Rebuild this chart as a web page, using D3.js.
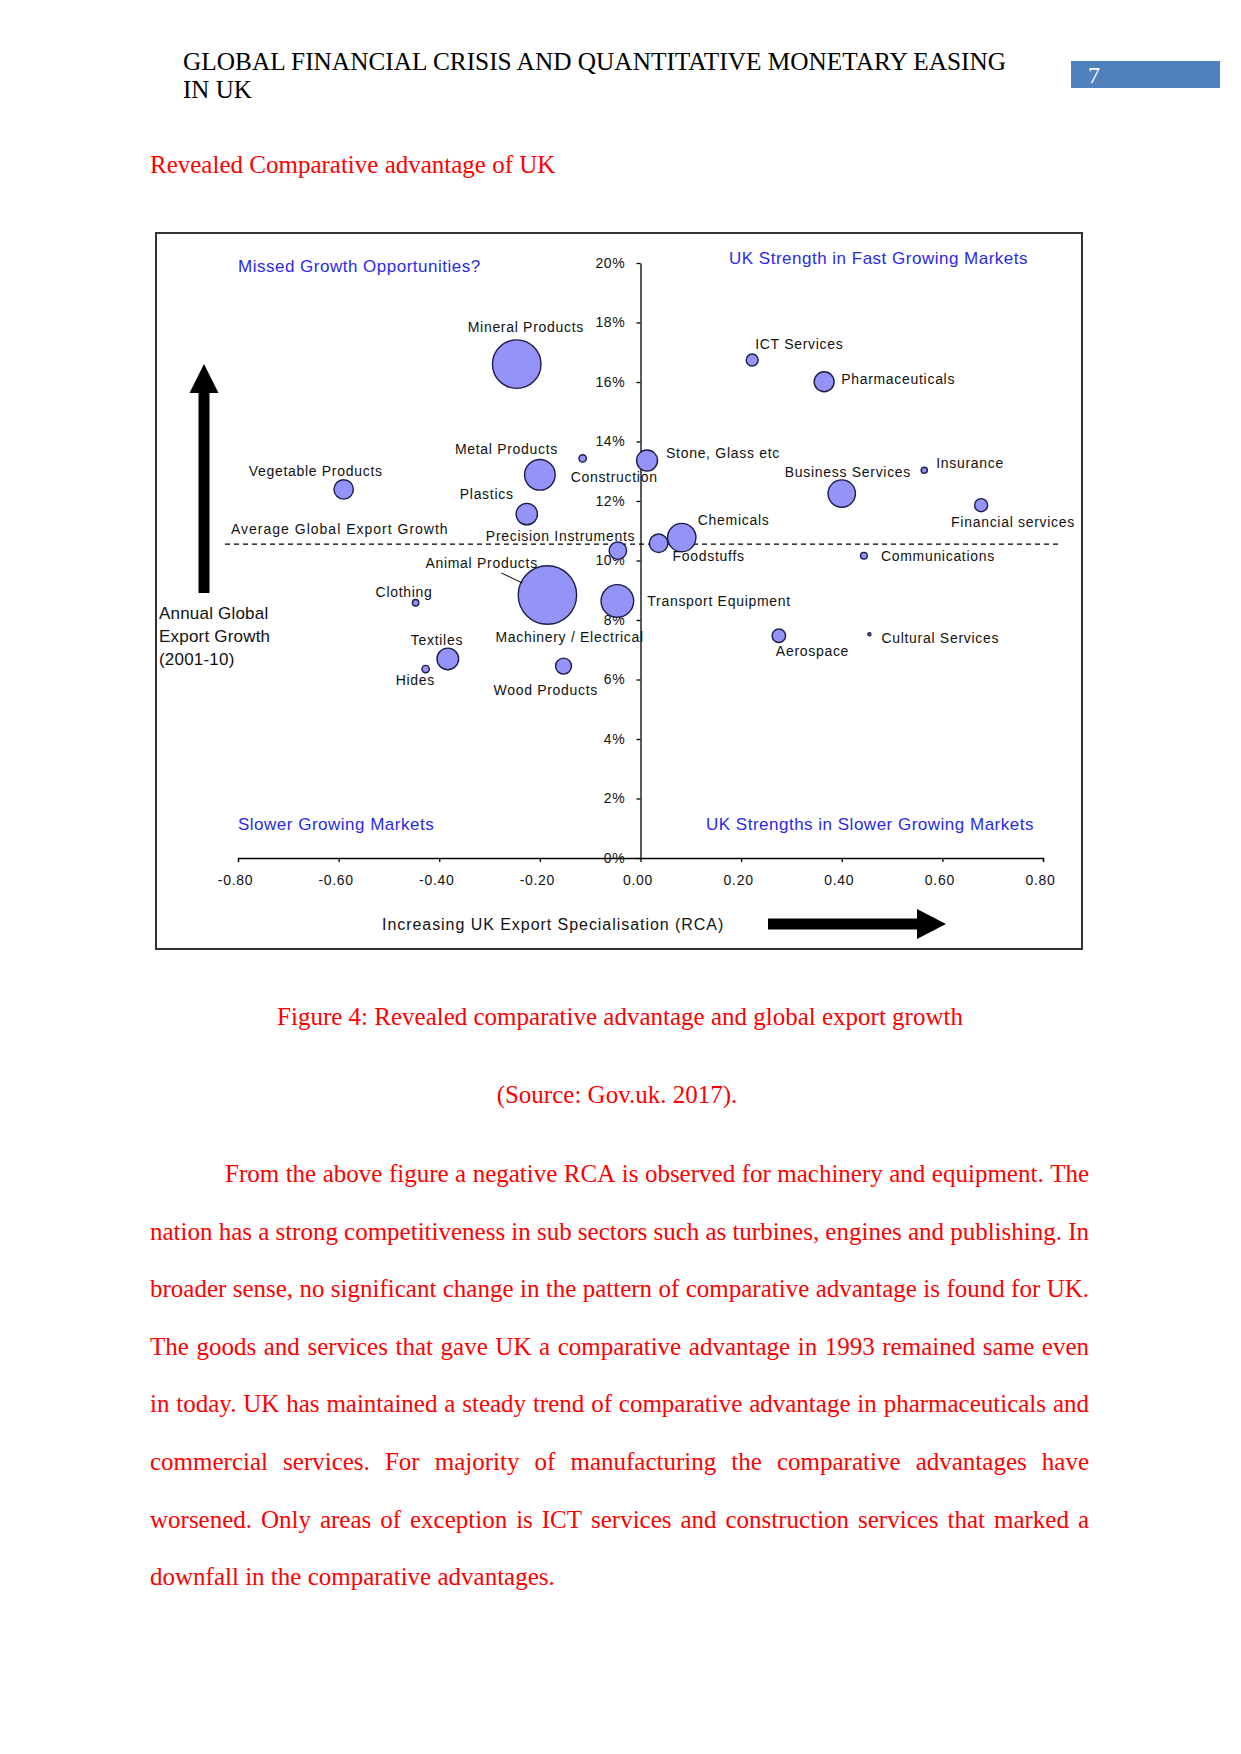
<!DOCTYPE html>
<html><head><meta charset="utf-8">
<script src="https://cdn.jsdelivr.net/npm/d3@7"></script>
<style>
html,body{margin:0;padding:0;background:#fff;}
svg{display:block;}
</style></head><body>
<svg id="page" width="1241" height="1754"></svg>
<script>
// ---------------- DATA ----------------
const sectors = ["Mineral Products","Metal Products","Construction","Vegetable Products","Plastics",
  "Precision Instruments","Stone, Glass etc","Foodstuffs","Chemicals","Machinery / Electrical",
  "Transport Equipment","Clothing","Textiles","Hides","Wood Products","ICT Services","Pharmaceuticals",
  "Business Services","Insurance","Financial services","Communications","Cultural Services","Aerospace"];
const rca = [-0.246,-0.200,-0.115,-0.590,-0.226,-0.045,0.013,0.036,0.082,-0.185,
  -0.046,-0.447,-0.383,-0.427,-0.153,0.222,0.365,0.400,0.564,0.677,0.444,0.455,0.275];
const growth = [16.6,12.88,13.43,12.39,11.56,10.33,13.36,10.58,10.77,8.84,
  8.64,8.58,6.69,6.35,6.45,16.74,16.01,12.25,13.03,11.86,10.16,7.52,7.47];
const exportSize = [69,27.5,1.6,11,13.4,8.9,12.9,10.1,23.6,100,
  31.2,1.2,13.7,1.6,7.5,4.2,11.7,22,1.1,5,1.3,0.2,5.3];
const avgGrowth = 10.55;
const xTicks = [-0.8,-0.6,-0.4,-0.2,0,0.2,0.4,0.6,0.8];
const yTicks = [0,2,4,6,8,10,12,14,16,18,20];
const quadrantTitles = ["Missed Growth Opportunities?","UK Strength in Fast Growing Markets",
  "Slower Growing Markets","UK Strengths in Slower Growing Markets"];
const bodyLines = [
  "From the above figure a negative RCA is observed for machinery and equipment. The",
  "nation has a strong competitiveness in sub sectors such as turbines, engines and publishing. In",
  "broader sense, no significant change in the pattern of comparative advantage is found for UK.",
  "The goods and services that gave UK a comparative advantage in 1993 remained same even",
  "in today. UK has maintained a steady trend of comparative advantage in pharmaceuticals and",
  "commercial services. For majority of manufacturing the comparative advantages have",
  "worsened. Only areas of exception is ICT services and construction services that marked a",
  "downfall in the comparative advantages."
];

// ---------------- LAYOUT (label offsets from bubble centre, px) ----------------
const labelOffset = {
  "Mineral Products":[-49,-37], "Metal Products":[-85,-26], "Construction":[-12,19],
  "Vegetable Products":[-95,-18], "Plastics":[-67,-20], "Precision Instruments":[-132,-15],
  "Stone, Glass etc":[19,-8], "Foodstuffs":[14,13], "Chemicals":[16,-18],
  "Machinery / Electrical":[-52,42], "Transport Equipment":[30,0], "Clothing":[-40,-11],
  "Textiles":[-37,-19], "Hides":[-30,11], "Wood Products":[-70,24], "ICT Services":[3,-16],
  "Pharmaceuticals":[17,-3], "Business Services":[-57,-22], "Insurance":[12,-7],
  "Financial services":[-30,17], "Communications":[17,0], "Cultural Services":[12,4],
  "Aerospace":[-3,15]
};

const svg = d3.select("#page");
const serif = "'Liberation Serif','Times New Roman',serif";
const sans = "'Liberation Sans',Arial,sans-serif";
const red = "#ff0000";

// ---------------- PAGE HEADER ----------------
svg.append("text").attr("x",183).attr("y",70).attr("font-family",serif).attr("font-size",25)
  .attr("textLength",823).attr("lengthAdjust","spacingAndGlyphs")
  .text("GLOBAL FINANCIAL CRISIS AND QUANTITATIVE MONETARY EASING");
svg.append("text").attr("x",183).attr("y",98).attr("font-family",serif).attr("font-size",25)
  .text("IN UK");
svg.append("rect").attr("x",1071).attr("y",61).attr("width",149).attr("height",27).attr("fill","#4f81bd");
svg.append("text").attr("x",1088).attr("y",83).attr("font-family",serif).attr("font-size",24)
  .attr("fill","#fff").text("7");
svg.append("text").attr("x",150).attr("y",173).attr("font-family",serif).attr("font-size",25)
  .attr("fill",red).text("Revealed Comparative advantage of UK");

// ---------------- CHART ----------------
const g = svg.append("g");
g.append("rect").attr("x",156).attr("y",233).attr("width",926).attr("height",716)
  .attr("fill","#fff").attr("stroke","#333").attr("stroke-width",2);

const x = d3.scaleLinear().domain([-0.8,0.8]).range([238,1043]);
const y = d3.scaleLinear().domain([0,20]).range([858,263]);
const r = d3.scaleSqrt().domain([0,100]).range([0,29.2]);

// x axis
const xAxis = g.append("g").attr("transform",`translate(0,${y(0)})`)
  .call(d3.axisBottom(x).tickValues(xTicks).tickSize(4).tickSizeOuter(4).tickPadding(13)
    .tickFormat(d => d3.format(".2f")(d).replace("\u2212","-")));
// y axis
const yAxis = g.append("g").attr("transform",`translate(${x(0)},0)`)
  .call(d3.axisLeft(y).tickValues(yTicks).tickSize(4).tickSizeOuter(0).tickPadding(11)
    .tickFormat(d => d + "%"));
[xAxis,yAxis].forEach(a => {
  a.selectAll("path,line").attr("stroke","#000").attr("stroke-width",1.3);
  a.selectAll("text").attr("font-family",sans).attr("font-size",14).attr("fill","#111")
    .attr("letter-spacing",0.7);
});
xAxis.selectAll("text").attr("dx",-3);

// average line
g.append("line").attr("x1",225).attr("x2",1060).attr("y1",y(avgGrowth)).attr("y2",y(avgGrowth))
  .attr("stroke","#000").attr("stroke-width",1.2).attr("stroke-dasharray","5,4");
g.append("text").attr("x",231).attr("y",y(avgGrowth)-15).attr("dominant-baseline","central")
  .attr("font-family",sans).attr("font-size",14).attr("letter-spacing",1.0).attr("fill","#111")
  .text("Average Global Export Growth");

// bubbles
const pts = sectors.map((s,i) => ({name:s, x:rca[i], y:growth[i], s:exportSize[i]}));
const sorted = pts.slice().sort((a,b) => b.s - a.s);
g.selectAll("circle.b").data(sorted).join("circle").attr("class","b")
  .attr("cx",d => x(d.x)).attr("cy",d => y(d.y)).attr("r",d => Math.max(1.5,r(d.s)))
  .attr("fill","#9494f8").attr("stroke","#1c1c48").attr("stroke-width",1.4);

g.selectAll("text.lbl").data(pts).join("text").attr("class","lbl")
  .attr("x",d => x(d.x) + labelOffset[d.name][0])
  .attr("y",d => y(d.y) + labelOffset[d.name][1])
  .attr("dominant-baseline","central")
  .attr("font-family",sans).attr("font-size",14).attr("letter-spacing",0.7).attr("fill","#111")
  .text(d => d.name);

// Animal Products annotation with leader line to machinery bubble
const mach = pts.find(d => d.name === "Machinery / Electrical");
g.append("text").attr("x",x(mach.x)-122).attr("y",y(mach.y)-32).attr("dominant-baseline","central")
  .attr("font-family",sans).attr("font-size",14).attr("letter-spacing",0.7).attr("fill","#111")
  .text("Animal Products");
g.append("line").attr("x1",x(mach.x)-46).attr("y1",y(mach.y)-22)
  .attr("x2",x(mach.x)-25).attr("y2",y(mach.y)-12).attr("stroke","#000").attr("stroke-width",1);

// quadrant titles
const qPos = [[238,266],[729,258],[238,824],[706,824]];
g.selectAll("text.q").data(quadrantTitles).join("text").attr("class","q")
  .attr("x",(d,i) => qPos[i][0]).attr("y",(d,i) => qPos[i][1]).attr("dominant-baseline","central")
  .attr("font-family",sans).attr("font-size",17).attr("letter-spacing",0.5).attr("fill","#2a2ae8")
  .text(d => d);

// y title
["Annual Global","Export Growth","(2001-10)"].forEach((t,i) => {
  g.append("text").attr("x",159).attr("y",613 + i*23.4).attr("dominant-baseline","central")
    .attr("font-family",sans).attr("font-size",17).attr("letter-spacing",0.2).attr("fill","#111").text(t);
});
// x title
g.append("text").attr("x",382).attr("y",924).attr("dominant-baseline","central")
  .attr("font-family",sans).attr("font-size",16).attr("letter-spacing",0.95).attr("fill","#111")
  .text("Increasing UK Export Specialisation (RCA)");

// arrows
g.append("path").attr("d","M198.5,593 L209.5,593 L209.5,393 L218.5,393 L204,364 L189.5,393 L198.5,393 Z").attr("fill","#000");
g.append("path").attr("d","M768,918.5 L917,918.5 L917,909 L946,924 L917,939 L917,929.5 L768,929.5 Z").attr("fill","#000");

// ---------------- CAPTION & BODY ----------------
svg.append("text").attr("x",620).attr("y",1025).attr("text-anchor","middle").attr("font-family",serif)
  .attr("font-size",25).attr("fill",red).text("Figure 4: Revealed comparative advantage and global export growth");
svg.append("text").attr("x",617).attr("y",1103).attr("text-anchor","middle").attr("font-family",serif)
  .attr("font-size",25).attr("fill",red).text("(Source: Gov.uk. 2017).");

const left = 150, right = 1089;
bodyLines.forEach((line,i) => {
  const yb = 1182 + i*57.6;
  const x0 = i === 0 ? 225 : left;
  const words = line.split(" ");
  const tg = svg.append("g");
  const els = words.map(w => tg.append("text").attr("y",yb).attr("font-family",serif)
    .attr("font-size",25).attr("fill",red).text(w));
  const widths = els.map(e => e.node().getComputedTextLength());
  const total = widths.reduce((a,b) => a+b,0);
  const last = i === bodyLines.length - 1;
  const gap = last ? 6.25 : (right - x0 - total) / (words.length - 1);
  let cx = x0;
  els.forEach((e,k) => { e.attr("x",cx); cx += widths[k] + gap; });
});
</script>
</body></html>
